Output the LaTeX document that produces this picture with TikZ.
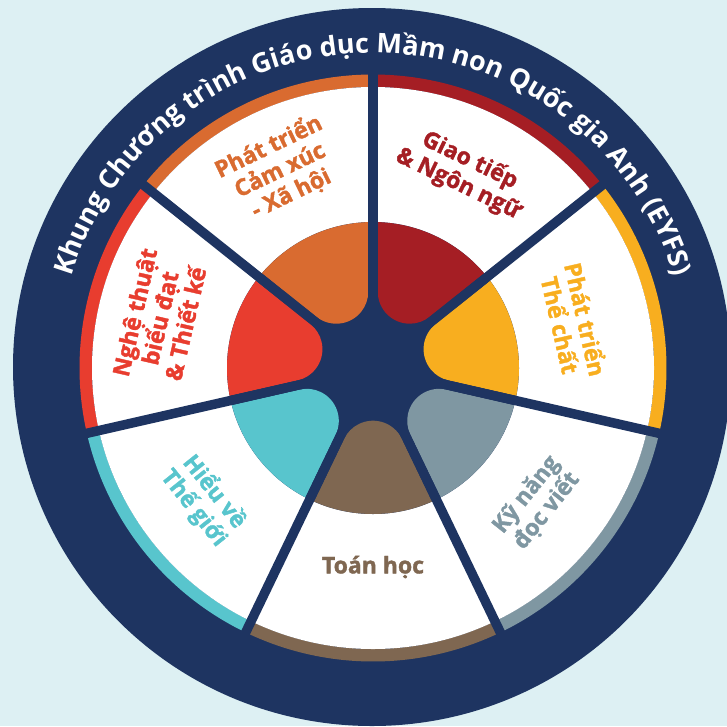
\documentclass[tikz,border=0pt]{standalone}
\usepackage{fontspec}
\setmainfont{Open Sans}
\newfontfamily\heavyfont{Open Sans}[BoldFeatures={FakeBold=1.5}]
\usetikzlibrary{decorations.text}
\definecolor{bg}{RGB}{221,240,243}
\definecolor{navy}{RGB}{30,52,97}
\definecolor{cOrange}{RGB}{217,107,48}
\definecolor{cDarkRed}{RGB}{165,30,36}
\definecolor{cYellow}{RGB}{248,174,31}
\definecolor{cGrey}{RGB}{127,151,162}
\definecolor{cBrown}{RGB}{127,103,81}
\definecolor{cCyan}{RGB}{88,197,205}
\definecolor{cRed}{RGB}{232,61,47}
\begin{document}
\begin{tikzpicture}[x=1pt,y=1pt,
  lbl/.style={font=\heavyfont\bfseries\fontsize{23}{26}\selectfont, align=center, inner sep=0pt},
  spoke/.style={draw=navy, line width=9.5pt}]
\useasboundingbox (0,0) rectangle (727,-726);
\fill[bg] (0,0) rectangle (727,-726);
\begin{scope}[shift={(373,-368)}]
  \fill[navy] (-1,1) circle[radius=359];
  % coloured rim segments
  \foreach \m/\c in {64.2857/cDarkRed, 12.8571/cYellow, -38.5714/cGrey, -90/cBrown, -141.4286/cCyan, 167.1429/cRed, 115.7143/cOrange} {
    \pgfmathsetmacro\aS{\m-25.7143}
    \pgfmathsetmacro\aE{\m+25.7143}
    \fill[\c] (\aS:293.5) arc[start angle=\aS, end angle=\aE, radius=293.5]
      -- (\aE:281) arc[start angle=\aE, end angle=\aS, radius=281] -- cycle;
  }
  \fill[white] (0,0) circle[radius=281];
  \fill[navy] (0,0) circle[radius=146];
  % inner lobes
  \foreach \m/\c in {64.2857/cDarkRed, 12.8571/cYellow, -38.5714/cGrey, -90/cBrown, -141.4286/cCyan, 167.1429/cRed, 115.7143/cOrange} {
    \fill[\c, rotate=\m] (23.85:146) -- (70.82,28.83)
      arc[start angle=115.714, end angle=244.286, radius=32]
      -- (-23.85:146) arc[start angle=-23.85, end angle=23.85, radius=146] -- cycle;
  }
  % spokes
  \coordinate (O) at (0,0);
  \foreach \a [count=\i] in {90, 38.5714, -12.8571, -64.2857, -115.7143, -167.1429, 141.4286} {
    \coordinate (s\i) at (\a:300);
    \path[spoke] (O) -- (s\i);
  }
  % labels
  \node[lbl, text=cOrange, rotate=25.71] (l1) at (115.2:219) {Phát triển\\Cảm xúc\\- Xã hội};
  \node[lbl, text=cDarkRed, rotate=-25.71] (l2) at (65:216) {Giao tiếp\\\& Ngôn ngữ};
  \node[lbl, text=cYellow, rotate=-77.14] (l3) at (12.9:206) {Phát triển\\Thể chất};
  \node[lbl, text=cGrey, rotate=51.43] (l4) at (-39.5:212) {Kỹ năng\\đọc viết};
  \node[lbl, text=cBrown] (l5) at (-90:199) {Toán học};
  \node[lbl, text=cCyan, rotate=-51.43] (l6) at (-142:214) {Hiểu về\\Thế giới};
  \node[lbl, text=cRed, rotate=77.14] (l7) at (166.8:219) {Nghệ thuật\\biểu đạt\\\& Thiết kế};
  % title along arc
  \path[decorate, decoration={text along path, text align=center, text color=white,
     text={|\fontsize{27}{27}\selectfont\bfseries|Khung Chương trình Giáo dục Mầm non Quốc gia Anh (EYFS)}}]
     (178:315) arc[start angle=178, end angle=2, radius=315];
\end{scope}
\end{tikzpicture}
\end{document}
